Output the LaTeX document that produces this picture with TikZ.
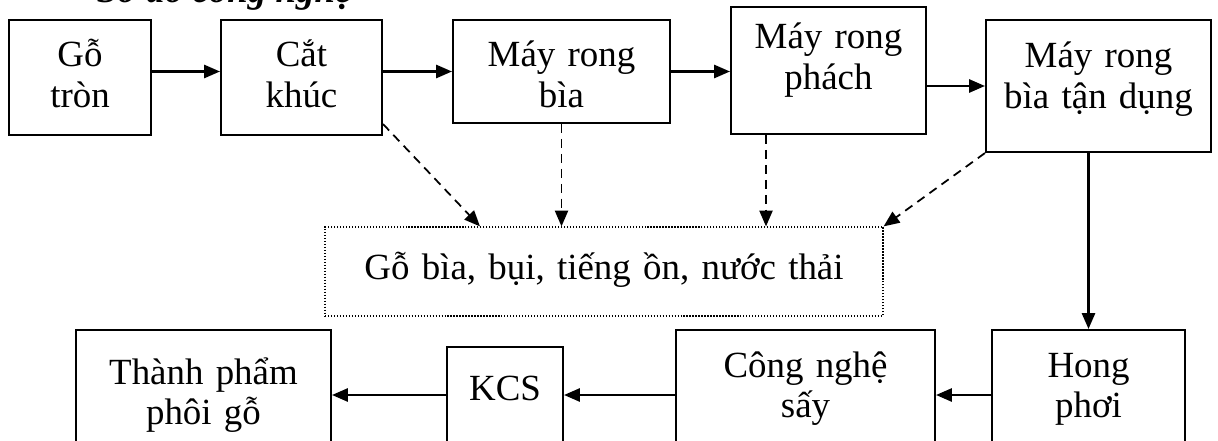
\documentclass[tikz,border=0pt]{standalone}
\usepackage{fontspec}
\setmainfont{Liberation Serif}
\usetikzlibrary{arrows.meta}

\begin{document}
\begin{tikzpicture}[->, >={Triangle[length=9pt,width=7.5pt]}, line width=1.2pt,
    box/.style={draw, anchor=base, align=center, inner sep=0pt, font=\fontsize{21}{23.3}\selectfont},
    waste/.style={dash pattern=on 5pt off 3.5pt, line width=1pt}]
  \useasboundingbox (0,0) rectangle (24.36,8.8);
  \node[anchor=base west, font=\fontsize{21}{23.3}\selectfont\bfseries\itshape] (title) at (1.8,8.74) {Sơ đồ công nghệ};
  % upper row
  \node[box, text width=2.84cm, text height=0.94cm, text depth=1.36cm] (tron) at (1.60,7.46) {Gỗ\\tròn};
  \node[box, text width=3.22cm, text height=0.94cm, text depth=1.36cm] (khuc) at (6.03,7.46) {Cắt\\khúc};
  \node[box, text width=4.34cm, text height=0.94cm, text depth=1.12cm] (bia) at (11.23,7.46) {Máy rong\\bìa};
  \node[box, text width=3.90cm, text height=0.84cm, text depth=1.70cm] (phach) at (16.57,7.82) {Máy rong\\phách};
  \node[box, text width=4.50cm, text height=0.96cm, text depth=1.68cm] (tandung) at (21.97,7.44) {Máy rong\\bìa tận dụng};
  % waste box
  \node[box, line width=0.7pt, dash pattern=on 0.7pt off 1pt, text width=11.16cm, text height=1.06cm, text depth=0.72cm] (chat) at (12.08,3.20) {Gỗ bìa, bụi, tiếng ồn, nước thải};
  % lower row
  \node[box, text width=3.86cm, text height=0.94cm, text depth=1.66cm] (hong) at (21.77,1.26) {Hong\\phơi};
  \node[box, text width=5.18cm, text height=0.94cm, text depth=1.66cm] (say) at (16.11,1.26) {Công nghệ\\sấy};
  \node[box, text width=2.32cm, text height=1.06cm, text depth=1.20cm] (kcs) at (10.10,0.80) {KCS};
  \node[box, text width=5.10cm, text height=1.08cm, text depth=1.52cm] (tp) at (4.07,1.12) {Thành phẩm\\phôi gỗ};
  \draw (tron.east |- bia.west) -- (khuc.west |- bia.west);
  \draw (khuc.east |- bia.west) -- (bia.west);
  \draw (bia.east) -- (bia.east -| phach.west);
  \draw (phach.east |- tandung.west) -- (tandung.west);
  \draw (tandung.south -| hong.north) -- (hong.north);
  \draw (hong.west) -- (hong.west -| say.east);
  \draw (say.west) -- (say.west -| kcs.east);
  \draw (kcs.west |- say.west) -- (tp.east |- say.west);
  \draw[waste] ([yshift=0.24cm]khuc.south east) -- ([xshift=-2.48cm]chat.north);
  \draw[waste] (bia.south) -- (bia.south |- chat.north);
  \draw[waste] ([xshift=-1.25cm]phach.south) -- ([xshift=-1.25cm]phach.south |- chat.north);
  \draw[waste] (tandung.south west) -- (chat.north east);
\end{tikzpicture}
\end{document}
